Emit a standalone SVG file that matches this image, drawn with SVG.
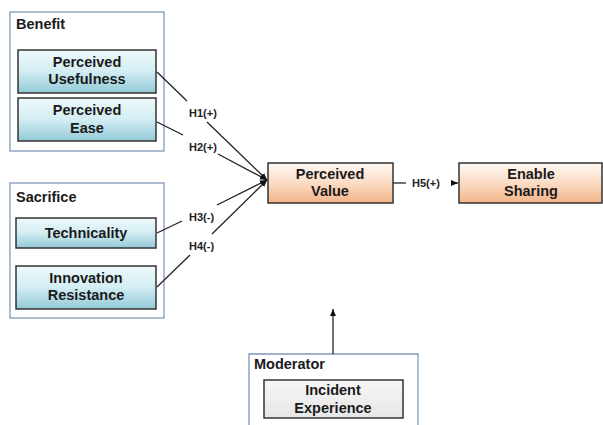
<svg xmlns="http://www.w3.org/2000/svg" width="603" height="425" viewBox="0 0 603 425">
<defs>
<linearGradient id="gBlue" x1="0" y1="0" x2="0" y2="1">
<stop offset="0" stop-color="#eef9fb"/><stop offset="0.5" stop-color="#d3edf3"/><stop offset="1" stop-color="#92c9d6"/>
</linearGradient>
<linearGradient id="gPeach" x1="0" y1="0" x2="0" y2="1">
<stop offset="0" stop-color="#fff8f3"/><stop offset="0.5" stop-color="#fbdcc4"/><stop offset="1" stop-color="#f3b488"/>
</linearGradient>
<linearGradient id="gGray" x1="0" y1="0" x2="0" y2="1">
<stop offset="0" stop-color="#f6f6f6"/><stop offset="1" stop-color="#e6e6e6"/>
</linearGradient>
<marker id="arr" markerWidth="8" markerHeight="8" refX="7" refY="4" orient="auto" markerUnits="userSpaceOnUse">
<path d="M0,1 L7,4 L0,7 z" fill="#111"/>
</marker>
</defs>
<style>
.grp{fill:#fff;stroke:#8098b8;stroke-width:1.3}
.node{stroke:#333;stroke-width:1.5}
.t{font-family:"Liberation Sans",Arial,sans-serif;font-weight:bold;font-size:14.5px;fill:#1a1a1a;text-anchor:middle}
.gt{font-family:"Liberation Sans",Arial,sans-serif;font-weight:bold;font-size:14.5px;fill:#1a1a1a}
.lb{font-family:"Liberation Sans",Arial,sans-serif;font-weight:bold;font-size:11px;fill:#222}
.c{stroke:#222;stroke-width:1.3;fill:none}
</style>

<g id="benefit">
<rect class="grp" x="10" y="12" width="154" height="139"/>
<text class="gt" x="16" y="29">Benefit</text>
</g>
<g id="perceived-usefulness">
<rect class="node" fill="url(#gBlue)" x="18" y="50" width="138" height="43"/>
<text class="t" x="87" y="67">Perceived</text>
<text class="t" x="87" y="84">Usefulness</text>
</g>
<g id="perceived-ease">
<rect class="node" fill="url(#gBlue)" x="18" y="98" width="138" height="43"/>
<text class="t" x="87" y="115">Perceived</text>
<text class="t" x="87" y="133">Ease</text>
</g>

<g id="sacrifice">
<rect class="grp" x="10" y="183" width="154" height="135"/>
<text class="gt" x="16" y="202">Sacrifice</text>
</g>
<g id="technicality">
<rect class="node" fill="url(#gBlue)" x="16" y="218" width="140" height="30"/>
<text class="t" x="86" y="238">Technicality</text>
</g>
<g id="innovation-resistance">
<rect class="node" fill="url(#gBlue)" x="16" y="266" width="140" height="43"/>
<text class="t" x="86" y="283">Innovation</text>
<text class="t" x="86" y="300">Resistance</text>
</g>

<g id="perceived-value">
<rect class="node" fill="url(#gPeach)" x="268" y="163" width="125" height="40"/>
<text class="t" x="330" y="179">Perceived</text>
<text class="t" x="330" y="196">Value</text>
</g>
<g id="enable-sharing">
<rect class="node" fill="url(#gPeach)" x="459" y="163" width="143" height="40"/>
<text class="t" x="531" y="179">Enable</text>
<text class="t" x="531" y="196">Sharing</text>
</g>

<g id="moderator">
<path class="grp" d="M249,425 V354 H418 V425"/>
<text class="gt" x="254" y="369">Moderator</text>
</g>
<g id="incident-experience">
<rect class="node" fill="url(#gGray)" x="264" y="380" width="139" height="38"/>
<text class="t" x="333" y="395">Incident</text>
<text class="t" x="333" y="413">Experience</text>
</g>

<g id="connectors">
<path class="c" d="M157,72 L187,101"/>
<path class="c" d="M207,122 L267,180" marker-end="url(#arr)"/>
<path class="c" d="M157,122 L183,135"/>
<path class="c" d="M218,154 L267,180" marker-end="url(#arr)"/>
<path class="c" d="M157,233 L182,221"/>
<path class="c" d="M217,205 L267,180" marker-end="url(#arr)"/>
<path class="c" d="M157,287 L190,255"/>
<path class="c" d="M212,234 L267,180" marker-end="url(#arr)"/>
<path class="c" d="M393,183 L406,183"/>
<path class="c" d="M452,183 L458,183" marker-end="url(#arr)"/>
<path class="c" d="M333,354 L333,309" marker-end="url(#arr)"/>
<text class="lb" x="189" y="117">H1(+)</text>
<text class="lb" x="189" y="151">H2(+)</text>
<text class="lb" x="189" y="221">H3(-)</text>
<text class="lb" x="189" y="250">H4(-)</text>
<text class="lb" x="412" y="187">H5(+)</text>
</g>
</svg>
